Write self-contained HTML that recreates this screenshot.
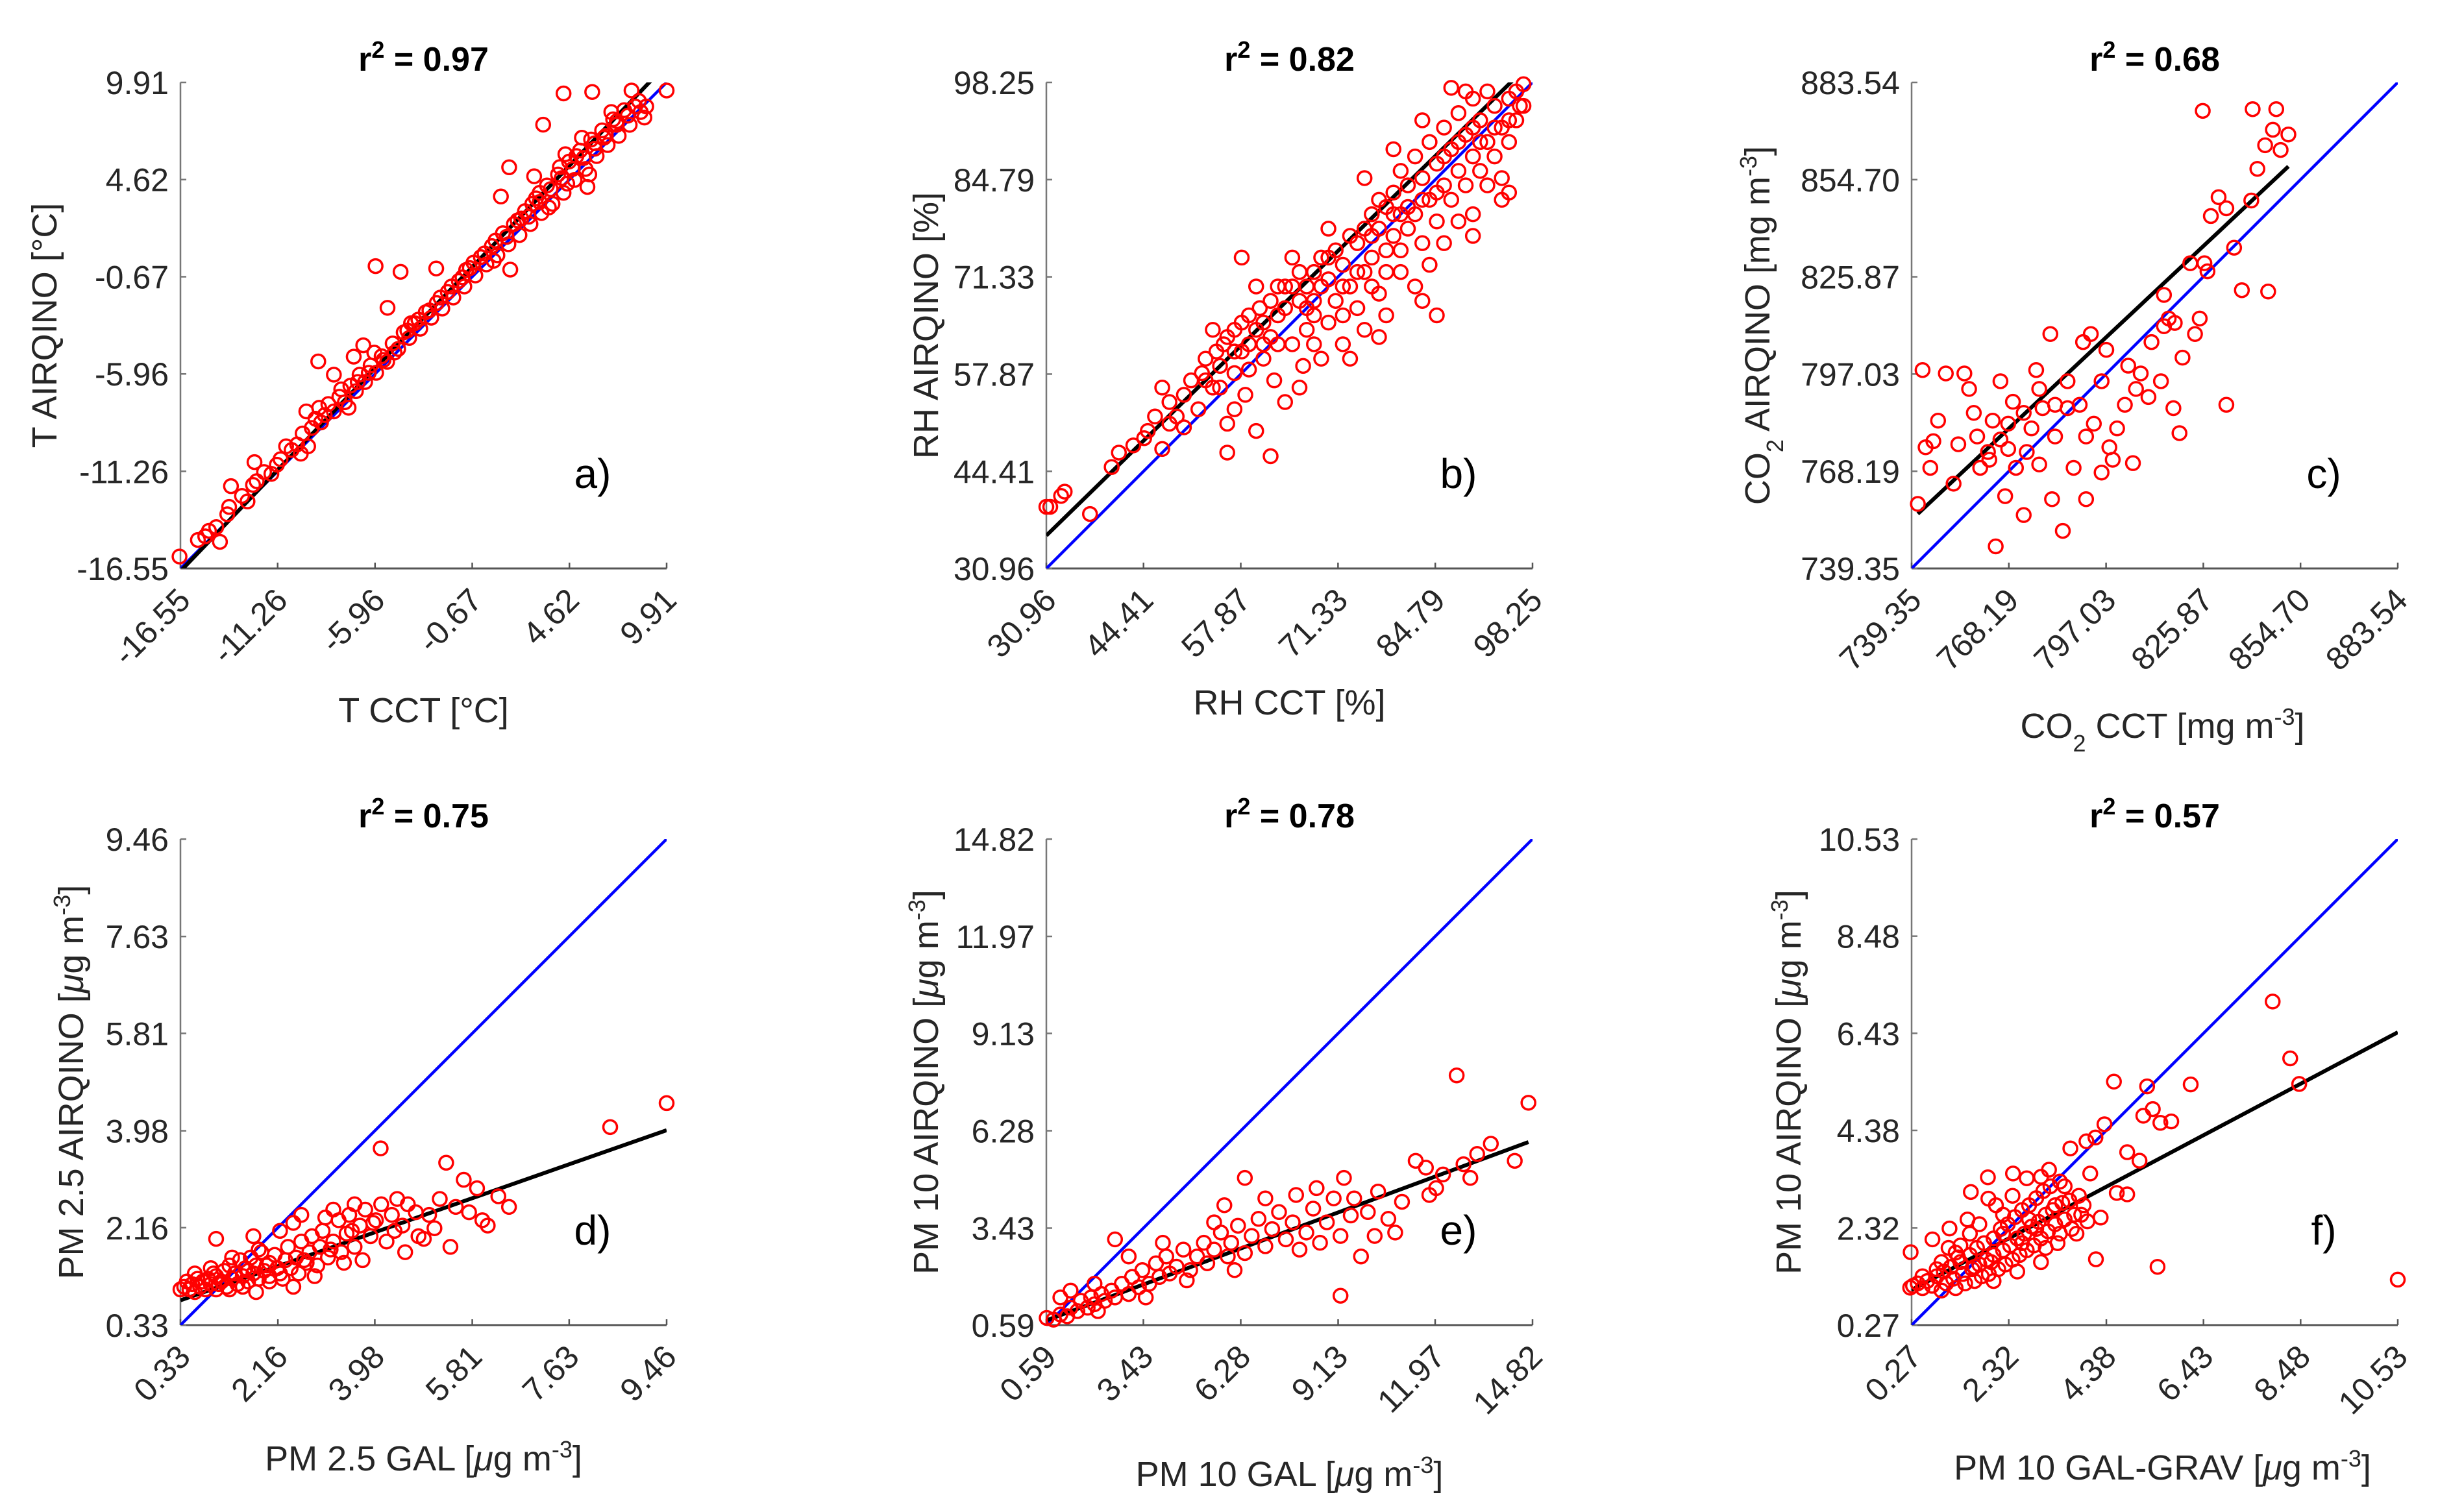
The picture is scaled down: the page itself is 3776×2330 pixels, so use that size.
<!DOCTYPE html>
<html><head><meta charset="utf-8">
<style>
html,body{margin:0;padding:0;background:#fff;}
svg{display:block;font-family:"Liberation Sans",Arial,sans-serif;}
</style></head>
<body>
<svg id="fig" width="3776" height="2330" viewBox="0 0 3776 2330" xmlns="http://www.w3.org/2000/svg">
<rect x="0" y="0" width="3776" height="2330" fill="#fff"/>
</svg>
<script>
// ---- Data arrays ----
const ticksA = ["-16.55","-11.26","-5.96","-0.67","4.62","9.91"];
const ticksB = ["30.96","44.41","57.87","71.33","84.79","98.25"];
const ticksC = ["739.35","768.19","797.03","825.87","854.70","883.54"];
const ticksD = ["0.33","2.16","3.98","5.81","7.63","9.46"];
const ticksE = ["0.59","3.43","6.28","9.13","11.97","14.82"];
const ticksF = ["0.27","2.32","4.38","6.43","8.48","10.53"];

const r2Values = ["0.97","0.82","0.68","0.75","0.78","0.57"];
const panelLetters = ["a)","b)","c)","d)","e)","f)"];

// fit [slope, intercept]
const fitA = [1.043, 0.56];
const fitB = [0.976, 5.3];
const fitC = [0.938, 60.3];
const fitD = [0.35, 0.68];
const fitE = [0.37, 0.51];
const fitF = [0.53, 0.87];

const pointsA = [[-16.6,-15.9],[-15.6,-15.0],[-15.0,-14.5],[-14.4,-15.1],[-14.0,-13.6],[-13.8,-12.07],[-12.52,-10.76],
[-9.05,-5.28],[-7.12,-5.02],[-5.93,-0.09],[-4.57,-0.4],[-2.63,-0.22],[-5.28,-2.36],[3.19,7.61],[4.3,9.31],[5.86,9.39],[8.0,9.47],[9.91,9.47],[0.89,3.7],[1.34,5.29],[5.6,4.22],[1.4,-0.28],
[-15.2,-14.8],[-14.6,-14.3],[-13.9,-13.2],[-13.2,-12.6],[-12.9,-12.9],[-12.4,-11.8],[-12.0,-11.3],[-11.6,-11.4],[-11.1,-10.6],[-10.8,-9.9],[-10.2,-9.8],[-9.9,-9.2],[-9.6,-9.9],[-9.2,-8.4],[-8.9,-8.6],[-8.5,-7.6],[-8.2,-8.0],[-7.9,-7.2],[-7.6,-7.5],[-7.3,-6.6],[-7.0,-6.9],[-6.8,-6.0],[-6.5,-6.4],[-6.2,-5.5],[-5.9,-5.9],[-5.6,-5.0],[-5.3,-5.3],[-5.0,-4.3],[-4.7,-4.6],[-4.4,-3.7],[-4.1,-4.0],[-3.8,-3.2],[-3.5,-3.5],[-3.2,-2.6],[-2.9,-2.9],[-2.6,-2.1],[-2.3,-2.4],[-2.0,-1.5],[-1.7,-1.8],[-1.4,-0.9],[-1.1,-1.2],[-0.8,-0.2],[-0.5,-0.6],[-0.2,0.4],[0.1,0.0],[0.4,1.0],[0.7,0.5],[1.0,1.7],[1.3,1.1],[1.6,2.2],[1.9,1.6],[2.2,2.9],[2.5,2.2],[2.8,3.6],[3.1,2.8],[3.4,4.3],[3.7,3.3],[4.0,4.9],[4.3,3.9],[4.6,5.6],[4.9,4.6],[5.2,6.2],[5.5,5.2],[5.8,6.8],[6.1,5.9],[6.4,7.3],[6.7,6.5],[7.0,7.9],[7.3,7.0],[7.6,8.4],[7.9,7.6],[8.2,8.6],[8.5,8.3],[3.0,3.9],[2.0,2.5],[4.5,4.4],[5.0,5.9],[6.0,6.3],[-9.0,-7.8],[-10.0,-10.3],[-6.0,-4.8],[-4.0,-3.2],[-7.4,-7.8],[-1.0,-0.3],[0.5,0.2],[5.7,4.9],[6.9,8.3],[3.5,3.1],[7.2,7.6],[6.5,6.9],[4.1,5.3],[2.6,3.3],[8.7,8.0],
[-12.6,-12.0],[-11.3,-10.9],[-10.5,-10.1],[-9.4,-8.9],[-8.7,-8.2],[-7.8,-6.8],[-6.9,-6.4],[-6.3,-5.9],[-5.5,-5.2],[-4.9,-4.8],[-4.2,-3.6],[-3.6,-3.0],[-3.0,-2.5],[-2.4,-1.8],[-1.8,-1.2],[-1.2,-0.7],[-0.6,0.1],[0.0,0.6],[0.6,1.3],[1.2,1.5],[1.8,2.4],[2.4,2.6],[3.0,3.4],[3.6,4.1],[4.2,4.7],[4.8,5.2],[5.4,5.8],[6.0,6.6],[6.6,7.0],[7.2,7.8],[7.8,8.1],[8.4,8.9],[8.8,8.6],[5.3,6.9],[4.4,6.0],[2.7,4.8],[-6.6,-4.4],[-8.2,-6.0],[-9.7,-8.0]];

const pointsB = [[30.96,39.5],[31.5,39.5],[33,41],[33.5,41.6],[37,38.5],[41,47],[43,48],[44.5,49],[46,52],[47,47.5],[48,54],[49,52],[50,55],[51,57],[52,53],[52.5,58],[53,60],[54,56],[54.5,61],[55,59],[55.5,62],[56,51],[56,63],[57,58],[57,64],[58,61],[58,65],[58.5,55],[59,62],[59,66],[60,64],[60,50],[60.5,67],[61,60],[61,65],[62,63],[62,68],[62.5,57],[63,66],[63,70],[64,67],[64,54],[65,62],[65,70],[66,68],[66,72],[66.5,59],[67,70],[67,64],[68,72],[68,66],[69,74],[69,60],[70,71],[70,65],[71,75],[71,68],[72,73],[72,62],[73,77],[73,70],[74,76],[74,67],[75,78],[75,72],[75,64],[76,80],[76,74],[77,78],[77,69],[78,81],[78,75],[78,66],[79,83],[79,77],[80,80],[80,72],[80,86],[81,84],[81,78],[82,88],[82,80],[82,70],[83,85],[83,76],[84,90],[84,82],[84,73],[85,87],[85,79],[86,92],[86,84],[86,76],[87,89],[87,82],[88,94],[88,86],[88,79],[89,91],[89,84],[90,96],[90,88],[90,80],[91,93],[91,86],[92,97],[92,90],[92,84],[93,95],[93,88],[94,92],[94,85],[95,96],[95,90],[96,97],[96,93],[97,98],[96.5,95],[89,97],[87,97.5],[83,93],[79,89],[75,85],[70,78],[65,74],[60,70],[58,74],[54,64],[47,56],[50,50.5],[56,47],[62,46.5],[68,62],[73,60],[77,63],[85,66],[83,68],[94,82],[95,83],[90,77],[66,56],[57,53],[59,58.5],
[40,45],[45,50],[48,51],[53,57],[55,56],[57,61],[61,62],[63,62],[64,70],[67,67],[69,70],[70,74],[72,70],[74,72],[76,77],[77,82],[79,80],[81,81],[83,82],[85,83],[86,88],[88,90],[90,92],[91,90],[93,92],[95,93],[97,95],[80,75],[78,72],[76,70],[72,66],[68,68]];

const pointsC = [[741.2,758.5],[743.5,775.3],[747.2,783.2],[742.6,798.2],[749.5,797.2],[753.2,776.2],[756.4,792.6],[757.8,785.5],[759.7,769.2],[762.4,771.6],[763.4,783.2],[765.7,777.6],[764.3,745.9],[767.1,760.8],[769.4,788.8],[772.6,755.2],[773.5,773.9],[774.9,780.9],[776.3,798.2],[778.2,786.9],[780.5,808.9],[781.9,778.5],[784.2,750.5],[785.6,794.9],[787.4,769.2],[789.2,787.9],[790.2,806.5],[792.5,808.9],[793.4,782.3],[795.7,794.9],[797.1,804.2],[799.0,771.6],[800.3,780.9],[802.6,787.9],[805.0,770.6],[805.9,792.6],[809.6,790.2],[813.3,794.9],[814.2,811.2],[815.6,813.5],[817.0,786.9],[818.8,779.5],[819.7,801.9],[827.1,827.5],[828.1,843.9],[824.8,813.5],[832.7,846.2],[835.0,834.5],[840.1,848.5],[841.9,857.9],[844.2,864.9],[846.5,869.5],[847.5,875.6],[840.5,875.6],[845.1,821.5],[848.8,863.5],[851.1,868.1],[825.7,875.1],[823.4,808.9],[814.2,820.5],[810.5,806.5],[807.3,797.2],[777.2,770.2],[768.0,782.3],[758.8,778.5],[751.8,764.5],[744.9,769.2],[770.3,769.2],[781.0,759.9],[795.7,767.8],[832.7,787.9],[826.2,829.9],[830.4,849.5],[822.0,829.9],[803.6,799.5],[785.6,786.9],[765.7,794.9],[755.0,797.2],[745.8,777.1],[798.0,775.3],[791.1,778.5],[777.2,792.6],[772.6,785.5],[781.9,787.9],[762.0,773.9],[817.4,812.2],[791.1,759.9],[768.0,774.8],[837.3,821.9]];

const pointsD = [[0.33,1.0],[0.4,1.05],[0.5,1.0],[0.55,1.1],[0.6,0.95],[0.7,1.05],[0.75,1.15],[0.8,1.0],[0.85,1.2],[0.9,1.1],[1.0,1.0],[1.0,1.25],[1.1,1.15],[1.15,1.35],[1.2,1.05],[1.25,1.45],[1.3,1.2],[1.35,1.3],[1.4,1.1],[1.45,1.55],[1.5,1.25],[1.55,1.4],[1.6,1.15],[1.65,1.6],[1.7,1.3],[1.75,1.45],[1.8,1.2],[1.85,1.7],[1.9,1.35],[2.0,1.5],[2.0,1.25],[2.1,1.65],[2.15,1.4],[2.2,1.3],[2.3,1.55],[2.35,1.8],[2.4,1.4],[2.5,1.6],[2.55,1.3],[2.6,1.9],[2.7,1.5],[2.75,1.7],[2.8,2.0],[2.9,1.45],[2.95,1.8],[3.0,2.1],[3.1,1.6],[3.2,1.9],[3.3,2.3],[3.35,1.7],[3.45,2.05],[3.5,2.4],[3.6,1.8],[3.7,2.2],[3.8,2.5],[3.9,2.0],[4.0,2.3],[4.1,2.6],[4.2,1.9],[4.3,2.4],[4.5,2.2],[4.6,2.6],[4.8,2.0],[5.0,2.4],[5.2,2.7],[5.4,1.8],[5.5,2.55],[5.65,3.06],[5.9,2.9],[6.0,2.3],[6.1,2.2],[6.3,2.75],[6.5,2.55],[8.4,4.05],[9.46,4.5],[4.09,3.65],[5.32,3.38],[1.0,1.95],[1.7,2.0],[1.3,1.6],[0.9,1.4],[2.2,2.1],[3.2,2.5],[3.6,2.6],[4.4,2.7],[2.6,2.4],[1.8,1.75],[0.6,1.3],[2.45,2.25],[3.05,2.35],[4.9,1.95],[3.4,1.5],[2.0,1.15],[2.85,1.25],[1.5,1.05],
[0.45,1.15],[0.65,1.2],[0.95,1.3],[1.05,1.1],[1.25,1.0],[1.6,1.35],[1.95,1.45],[2.25,1.2],[2.65,1.55],[3.15,1.75],[3.55,2.1],[3.95,2.25],[4.35,2.1],[4.75,2.45],[5.1,2.15],[5.75,2.45],[4.55,1.7],[3.75,1.55],[2.45,1.05],[1.75,0.95]];

const pointsE = [[0.6,0.8],[0.8,0.75],[1.0,0.9],[1.2,0.85],[1.3,1.1],[1.5,1.0],[1.6,1.3],[1.8,1.1],[1.9,1.4],[2.0,1.2],[2.2,1.5],[2.3,1.3],[2.5,1.6],[2.6,1.4],[2.8,1.8],[3.0,1.5],[3.1,2.0],[3.3,1.7],[3.4,2.2],[3.6,1.8],[3.8,2.4],[3.9,2.0],[4.1,2.6],[4.2,2.1],[4.4,2.3],[4.6,2.8],[4.8,2.2],[5.0,2.6],[5.2,3.0],[5.3,2.4],[5.5,2.8],[5.7,3.3],[5.9,2.6],[6.0,3.0],[6.2,3.5],[6.4,2.7],[6.6,3.2],[6.8,3.7],[7.0,2.9],[7.2,3.4],[7.4,3.9],[7.6,3.1],[7.8,3.6],[8.0,2.8],[8.2,3.3],[8.4,4.0],[8.6,3.0],[8.8,3.6],[9.0,4.3],[9.2,3.2],[9.5,3.8],[9.8,2.6],[10.0,3.9],[10.3,4.5],[10.6,3.7],[11.0,4.2],[11.4,5.4],[11.8,4.4],[12.2,5.0],[12.6,7.9],[12.8,5.3],[13.2,5.6],[13.6,5.9],[14.3,5.4],[14.7,7.1],[9.2,1.45],[6.4,4.9],[2.6,3.1],[9.3,4.9],[1.3,1.6],[2.1,1.0],[3.5,1.4],[4.0,3.0],[5.5,3.6],[7.0,4.3],[10.2,3.2],[10.8,3.3],[8.5,4.6],[11.7,5.2],[12.0,4.6],[7.9,4.4],[6.1,2.2],[4.7,1.9],[3.0,2.6],[2.0,1.8],[1.0,1.4],[5.8,4.1],[9.6,4.3],[13.0,4.9]];

const pointsF = [[0.3,1.1],[0.4,1.15],[0.5,1.05],[0.6,1.2],[0.7,1.1],[0.8,1.3],[0.9,1.0],[0.95,1.4],[1.0,1.15],[1.1,1.5],[1.15,1.25],[1.2,1.05],[1.3,1.6],[1.35,1.35],[1.4,1.15],[1.5,1.75],[1.55,1.45],[1.6,1.2],[1.65,1.9],[1.7,1.55],[1.75,1.3],[1.8,2.0],[1.85,1.65],[1.9,1.35],[2.0,2.1],[2.0,1.75],[2.1,1.45],[2.15,2.3],[2.2,1.85],[2.25,1.55],[2.3,2.4],[2.35,1.95],[2.4,1.65],[2.45,2.55],[2.5,2.1],[2.55,1.75],[2.6,2.7],[2.65,2.2],[2.7,1.85],[2.75,2.8],[2.8,2.35],[2.85,1.95],[2.9,2.95],[2.95,2.45],[3.0,2.1],[3.05,3.1],[3.1,2.6],[3.15,2.25],[3.2,3.2],[3.25,2.7],[3.3,2.4],[3.35,2.0],[3.4,3.3],[3.45,2.85],[3.5,2.5],[3.6,2.9],[3.7,2.6],[3.75,2.2],[3.8,3.0],[3.9,2.8],[1.2,1.8],[0.9,1.6],[1.5,2.2],[2.2,2.6],[1.7,2.4],[2.5,1.4],[2.0,1.2],[3.0,1.6],[1.3,1.95],
[7.89,7.1],[8.26,5.9],[8.45,5.36],[10.53,1.23],[5.46,1.5],[4.16,1.66],[4.54,5.41],[5.24,5.31],[6.16,5.35],[5.16,4.69],[5.36,4.83],[5.52,4.54],[5.75,4.57],[4.34,4.51],[4.15,4.23],[3.96,4.15],[3.62,4.0],[4.82,3.92],[5.08,3.74],[4.04,3.47],[4.6,3.06],[4.82,3.03],[3.98,2.46],[4.26,2.54],[0.25,1.81],[0.71,2.08],[1.07,2.31],[1.52,3.08],[1.88,3.39],[2.41,3.47],[2.7,3.37],[3.17,3.55],[1.89,2.94],[0.24,1.06],
[0.5,1.3],[0.8,1.45],[1.25,1.7],[1.6,1.5],[1.95,1.6],[2.2,2.2],[2.6,2.0],[2.9,2.3],[3.1,1.9],[3.3,2.8],[3.5,3.2],[3.65,2.3],[3.85,2.6],[3.4,2.2],[2.75,2.5],[2.05,2.8],[1.45,2.5],[1.05,1.9],[2.4,3.0],[3.0,3.4]];

// ---- Layout ----
const NS = "http://www.w3.org/2000/svg";
const svg = document.getElementById('fig');
const PW = 749, PH = 749;
function mk(tag, attrs, parent){ const e=document.createElementNS(NS,tag); for(const k in attrs) e.setAttribute(k,attrs[k]); (parent||svg).appendChild(e); return e; }

const panels = [
 {id:'a', x0:278, y0:127, ticks:ticksA, pts:pointsA, fit:fitA, ylabOff:210,
  ylab:[['T AIRQINO [°C]','']], xlab:[['T CCT [°C]','']], xlabY:1113},
 {id:'b', x0:1612, y0:127, ticks:ticksB, pts:pointsB, fit:fitB, ylabOff:186,
  ylab:[['RH AIRQINO [%]','']], xlab:[['RH CCT [%]','']], xlabY:1101},
 {id:'c', x0:2945, y0:127, ticks:ticksC, pts:pointsC, fit:fitC, ylabOff:238,
  ylab:[['CO',''],['2','sub'],[' AIRQINO [mg m',''],['-3','sup'],[']','']], xlab:[['CO',''],['2','sub'],[' CCT [mg m',''],['-3','sup'],[']','']], xlabY:1137},
 {id:'d', x0:278, y0:1293, ticks:ticksD, pts:pointsD, fit:fitD, ylabOff:169,
  ylab:[['PM 2.5 AIRQINO [',''],['μ','it'],['g m',''],['-3','sup'],[']','']], xlab:[['PM 2.5 GAL [',''],['μ','it'],['g m',''],['-3','sup'],[']','']], xlabY:2266},
 {id:'e', x0:1612, y0:1293, ticks:ticksE, pts:pointsE, fit:fitE, ylabOff:186,
  ylab:[['PM 10 AIRQINO [',''],['μ','it'],['g m',''],['-3','sup'],[']','']], xlab:[['PM 10 GAL [',''],['μ','it'],['g m',''],['-3','sup'],[']','']], xlabY:2290},
 {id:'f', x0:2945, y0:1293, ticks:ticksF, pts:pointsF, fit:fitF, ylabOff:190,
  ylab:[['PM 10 AIRQINO [',''],['μ','it'],['g m',''],['-3','sup'],[']','']], xlab:[['PM 10 GAL-GRAV [',''],['μ','it'],['g m',''],['-3','sup'],[']','']], xlabY:2280}
];

function addRich(t, parts){
  parts.forEach(p=>{
    const s=document.createElementNS(NS,'tspan');
    s.textContent=p[0];
    if(p[1]==='sup'){ s.setAttribute('baseline-shift','super'); s.setAttribute('font-size','36'); }
    if(p[1]==='sub'){ s.setAttribute('baseline-shift','sub'); s.setAttribute('font-size','36'); }
    if(p[1]==='it'){ s.setAttribute('font-style','italic'); }
    t.appendChild(s);
  });
}

panels.forEach((P,i)=>{
  const vals = P.ticks.map(Number);
  const vmin = vals[0], vmax = vals[vals.length-1];
  const sx = v => P.x0 + (v-vmin)/(vmax-vmin)*PW;
  const sy = v => P.y0 + PH - (v-vmin)/(vmax-vmin)*PH;
  const g = mk('g',{});
  
  

  const cp = mk('clipPath',{id:'clip-'+P.id}, g);
  mk('rect',{x:P.x0,y:P.y0,width:PW,height:PH},cp);

  const xa = mk('line',{x1:P.x0,y1:P.y0+PH,x2:P.x0+PW,y2:P.y0+PH,stroke:'#555','stroke-width':3},g);
  
  
  const ya = mk('line',{x1:P.x0,y1:P.y0,x2:P.x0,y2:P.y0+PH,stroke:'#777','stroke-width':2.5},g);
  
  

  P.ticks.forEach((lab,k)=>{
    const v=vals[k], X=sx(v), Y=sy(v);
    mk('line',{x1:X,y1:P.y0+PH,x2:X,y2:P.y0+PH-9,stroke:'#555','stroke-width':2.5},g);
    mk('line',{x1:P.x0,y1:Y,x2:P.x0+9,y2:Y,stroke:'#777','stroke-width':2.5},g);
    const yt = mk('text',{x:P.x0-18,y:Y+18,'text-anchor':'end','font-size':50,fill:'#262626'},g);
    yt.textContent=lab;
    
    
    const tx=X+18, ty=P.y0+PH+52;
    const xt = mk('text',{x:tx,y:ty,'text-anchor':'end','font-size':50,fill:'#262626',transform:`rotate(-45 ${tx} ${ty})`},g);
    xt.textContent=lab;
    
    
  });

  const cg = mk('g',{'clip-path':`url(#clip-${P.id})`},g);
  P.pts.forEach(p=>{
    const c = mk('circle',{cx:sx(p[0]),cy:sy(p[1]),r:10.5,fill:'none',stroke:'#ff0000','stroke-width':3.5},g);
    
    
  });
  const idl = mk('line',{x1:sx(vmin),y1:sy(vmin),x2:sx(vmax),y2:sy(vmax),stroke:'#0000ff','stroke-width':4.5},cg);
  
  
  const xs = P.pts.map(p=>p[0]);
  const fx1 = Math.max(vmin, Math.min(...xs)), fx2 = Math.min(vmax, Math.max(...xs));
  const fl = mk('line',{x1:sx(fx1),y1:sy(P.fit[0]*fx1+P.fit[1]),x2:sx(fx2),y2:sy(P.fit[0]*fx2+P.fit[1]),stroke:'#000','stroke-width':6},cg);
  
  

  const t = mk('text',{x:P.x0+PW/2,y:P.y0-18,'text-anchor':'middle','font-size':52,'font-weight':'bold',fill:'#000'},g);
  addRich(t,[['r',''],['2','sup'],[' = '+r2Values[i],'']]);
  
  

  const L = mk('text',{x:P.x0+635,y:P.y0+625,'text-anchor':'middle','font-size':64,fill:'#000'},g);
  L.textContent = panelLetters[i];
  
  

  const xl = mk('text',{x:P.x0+PW/2+(P.id==='c'||P.id==='f'?12:0),y:P.xlabY,'text-anchor':'middle','font-size':54,fill:'#262626'},g);
  addRich(xl,P.xlab);
  
  
  const yx = P.x0-P.ylabOff+19, yy=P.y0+PH/2;
  const yl = mk('text',{x:yx,y:yy,'text-anchor':'middle','font-size':54,fill:'#262626',transform:`rotate(-90 ${yx} ${yy})`},g);
  addRich(yl,P.ylab);
  
  
});
</script>
</body></html>
